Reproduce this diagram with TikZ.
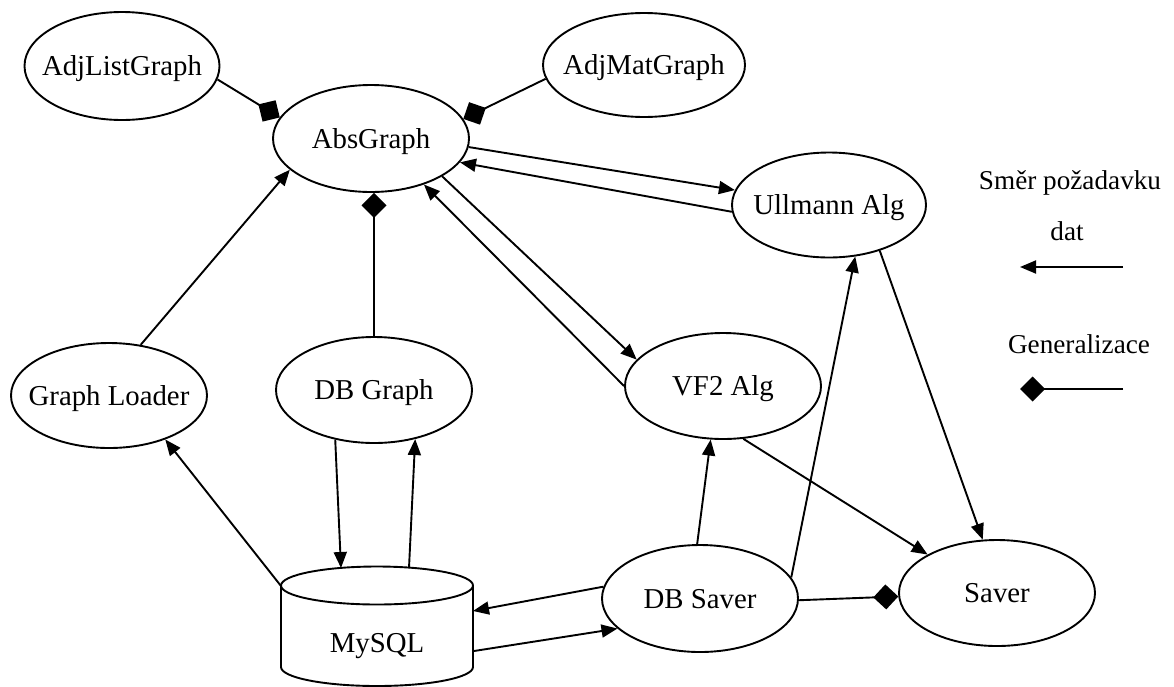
\documentclass[tikz,border=0pt]{standalone}
\usepackage{fontspec}
\setmainfont{Liberation Serif}
\usetikzlibrary{arrows.meta,shapes.geometric}
\begin{document}
\begin{tikzpicture}[x=1pt,y=1pt,
  ell/.style={ellipse, draw, line width=1.9pt, minimum width=196pt, minimum height=106pt, inner sep=0pt},
  txt/.style={font=\fontsize{28.8}{34}\selectfont, text height=19pt, text depth=0pt, inner sep=0pt},
  leg/.style={font=\fontsize{27.2}{32}\selectfont, inner sep=0pt, anchor=base},
  conn/.style={line width=1.9pt},
  arr/.style={conn, -{Triangle[length=16pt,width=13pt]}},
  gen/.style={conn, -{Diamond[length=25pt,width=25pt]}},
  every label/.style={txt}]
\fill[white] (0,0) rectangle (1174,-686);
\useasboundingbox (0,0) rectangle (1174,-686);
% nodes
\node[ell, minimum width=195pt, minimum height=108pt, label=center:AdjListGraph] (adjl) at (122,-66) {};
\node[ell, minimum width=202pt, minimum height=104pt, label=center:AdjMatGraph] (adjm) at (644,-65) {};
\node[ell, minimum height=107pt, label=center:AbsGraph] (abs) at (371,-138.5) {};
\node[ell, minimum width=194pt, minimum height=105pt, label=center:Ullmann Alg] (ull) at (829,-205) {};
\node[ell, label=center:VF2 Alg] (vf2) at (723,-386) {};
\node[ell, minimum height=105pt, label=center:Graph Loader] (gl) at (109,-395.5) {};
\node[ell, label=center:DB Graph] (dbg) at (374,-390) {};
\node[ell, minimum height=107pt, label=center:DB Saver] (dbs) at (700,-598.5) {};
\node[ell, label=center:Saver] (saver) at (997,-593) {};
% MySQL cylinder
\draw[line width=1.9pt] (281,-585.5) -- (281,-667) arc[start angle=180,end angle=360,x radius=96,y radius=19] -- (473,-585.5);
\draw[line width=1.9pt] (377,-585.5) ellipse[x radius=96, y radius=19];
\node[txt] (mysql) at (377,-643) {MySQL};
\coordinate (my1) at (341,-568);
\coordinate (my2) at (409,-568);
\coordinate (my3) at (281,-586);
\coordinate (my4) at (473,-611);
\coordinate (my5) at (474,-651);
% connectors
\draw[gen] (adjl.-8.3) -- (abs.167);
\draw[gen] (adjm.188.8) -- (abs.12.3);
\draw[arr] (gl.58.7) -- (abs.201);
\draw[gen] (dbg.north) -- (dbg.north |- abs.south);
\draw[arr] (abs.-5.9) -- (ull.171.1);
\draw[arr] (ull.184.2) -- (abs.-15.4);
\draw[arr] (abs.-28.8) -- (vf2.163.2);
\draw[arr] (vf2.180) -- (abs.-41);
\draw[arr] (dbg.-128) -- (my1);
\draw[arr] (my2) -- (dbg.-50.3);
\draw[arr] (my3) -- (gl.-38.8);
\draw[arr] (dbs.173) -- (my4);
\draw[arr] (my5) -- (dbs.200);
\draw[arr] (dbs.93) -- (vf2.-103.5);
\draw[arr] (dbs.13.1) -- (ull.-63.4);
\draw[arr] (vf2.-69) -- (saver.151);
\draw[arr] (ull.-42.6) -- (saver.105.5);
\draw[gen] (dbs.-1) -- (saver.182);
% legend
\node[leg] (l1) at (1070,-189) {Směr požadavku};
\node[leg] (l2) at (1067,-240) {dat};
\node[leg] (l3) at (1079,-353) {Generalizace};
\coordinate (la1) at (1123,-267);
\coordinate (la2) at (1020,-267);
\coordinate (lg1) at (1123,-389);
\coordinate (lg2) at (1020,-389);
\draw[arr] (la1) -- (la2);
\draw[gen] (lg1) -- (lg2);
\end{tikzpicture}
\end{document}
